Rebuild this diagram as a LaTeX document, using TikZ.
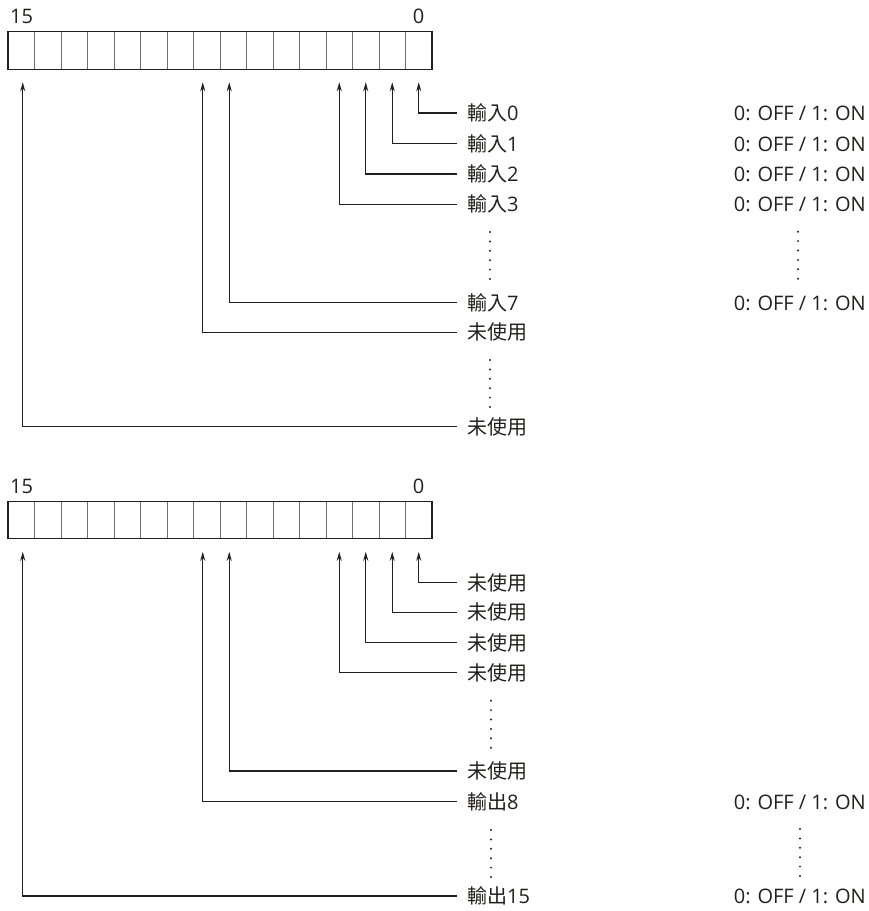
\documentclass[tikz,border=0pt]{standalone}
\usepackage{fontspec}
\setmainfont{Open Sans}
\newfontfamily\cjk{Noto Sans CJK TC}
\usetikzlibrary{arrows.meta}
\definecolor{ink}{HTML}{231F1E}
\definecolor{divider}{HTML}{6E6E6E}
\begin{document}
\begin{tikzpicture}[x=1pt,y=-1pt,
  cell/.style={draw=divider,line width=1pt,minimum width=26.5pt,minimum height=37.6pt,inner sep=0pt,outer sep=0pt},
  frame/.style={draw=ink,line width=1.2pt},
  txt/.style={font=\fontsize{20}{20}\selectfont,text=ink,text height=15pt,text depth=0pt,inner ysep=0pt},
  lab/.style={txt,anchor=west,inner xsep=10pt},
  state/.style={txt,anchor=east,inner xsep=0pt},
  num/.style={font=\fontsize{20}{20}\selectfont,text=ink,anchor=base,inner sep=0pt},
  link/.style={draw=ink,line width=1.1pt,-{Stealth[length=9pt,width=5pt]}},
  vdots/.style={draw=ink,line width=2.2pt,line cap=round,dash pattern=on 0pt off 9.4pt}
]
\useasboundingbox (0,0) rectangle (869,911);

% ---------- upper register ----------
\foreach \i in {0,...,15}
  \node[cell] (a\i) at ({432-13.25-26.5*\i},50.5) {};
\draw[frame] (a15.north west) rectangle (a0.south east);
\node[num] (ah15) at (21.5,23.3) {15};
\node[num] (ah0) at (418.5,23.3) {0};

\node[lab] (la0) at (457,113) {{\cjk 輸入}0};
\node[lab] (la1) at (457,143.5) {{\cjk 輸入}1};
\node[lab] (la2) at (457,174) {{\cjk 輸入}2};
\node[lab] (la3) at (457,204.3) {{\cjk 輸入}3};
\node[lab] (la7) at (457,302.7) {{\cjk 輸入}7};
\node[lab] (la8) at (457,332.3) {{\cjk 未使用}};
\node[lab] (la15) at (457,426.7) {{\cjk 未使用}};

\draw[link] (la0.west) -| ([yshift=-13pt]a0.south);
\draw[link] (la1.west) -| ([yshift=-13pt]a1.south);
\draw[link] (la2.west) -| ([yshift=-13pt]a2.south);
\draw[link] (la3.west) -| ([yshift=-13pt]a3.south);
\draw[link] (la7.west) -| ([xshift=-4pt,yshift=-13pt]a7.south);
\draw[link] (la8.west) -| ([xshift=-4pt,yshift=-13pt]a8.south);
\draw[link] (la15.west) -| ([xshift=1.5pt,yshift=-13pt]a15.south);

\node[state] (sa0) at (866,113) {0: OFF / 1: ON};
\node[state] (sa1) at (866,143.5) {0: OFF / 1: ON};
\node[state] (sa2) at (866,174) {0: OFF / 1: ON};
\node[state] (sa3) at (866,204.3) {0: OFF / 1: ON};
\node[state] (sa7) at (866,302.7) {0: OFF / 1: ON};

\draw[vdots] (490,232) -- (490,280);
\draw[vdots] (490,360) -- (490,408);
\draw[vdots] (798,231.7) -- (798,279.5);

% ---------- lower register ----------
\foreach \i in {0,...,15}
  \node[cell] (b\i) at ({432-13.25-26.5*\i},520) {};
\draw[frame] (b15.north west) rectangle (b0.south east);
\node[num] (bh15) at (21.5,493.3) {15};
\node[num] (bh0) at (418.5,493.3) {0};

\node[lab] (lb0) at (457,582.7) {{\cjk 未使用}};
\node[lab] (lb1) at (457,612.3) {{\cjk 未使用}};
\node[lab] (lb2) at (457,642.7) {{\cjk 未使用}};
\node[lab] (lb3) at (457,672.7) {{\cjk 未使用}};
\node[lab] (lb7) at (457,771) {{\cjk 未使用}};
\node[lab] (lb8) at (457,801.7) {{\cjk 輸出}8};
\node[lab] (lb15) at (457,896) {{\cjk 輸出}15};

\draw[link] (lb0.west) -| ([yshift=-13pt]b0.south);
\draw[link] (lb1.west) -| ([yshift=-13pt]b1.south);
\draw[link] (lb2.west) -| ([yshift=-13pt]b2.south);
\draw[link] (lb3.west) -| ([yshift=-13pt]b3.south);
\draw[link] (lb7.west) -| ([xshift=-4pt,yshift=-13pt]b7.south);
\draw[link] (lb8.west) -| ([xshift=-4pt,yshift=-13pt]b8.south);
\draw[link] (lb15.west) -| ([xshift=1.5pt,yshift=-13pt]b15.south);

\node[state] (sb8) at (866,801.7) {0: OFF / 1: ON};
\node[state] (sb15) at (866,896) {0: OFF / 1: ON};

\draw[vdots] (491,700.7) -- (491,748.5);
\draw[vdots] (491,830) -- (491,877.5);
\draw[vdots] (800,829) -- (800,877.5);
\end{tikzpicture}
\end{document}
